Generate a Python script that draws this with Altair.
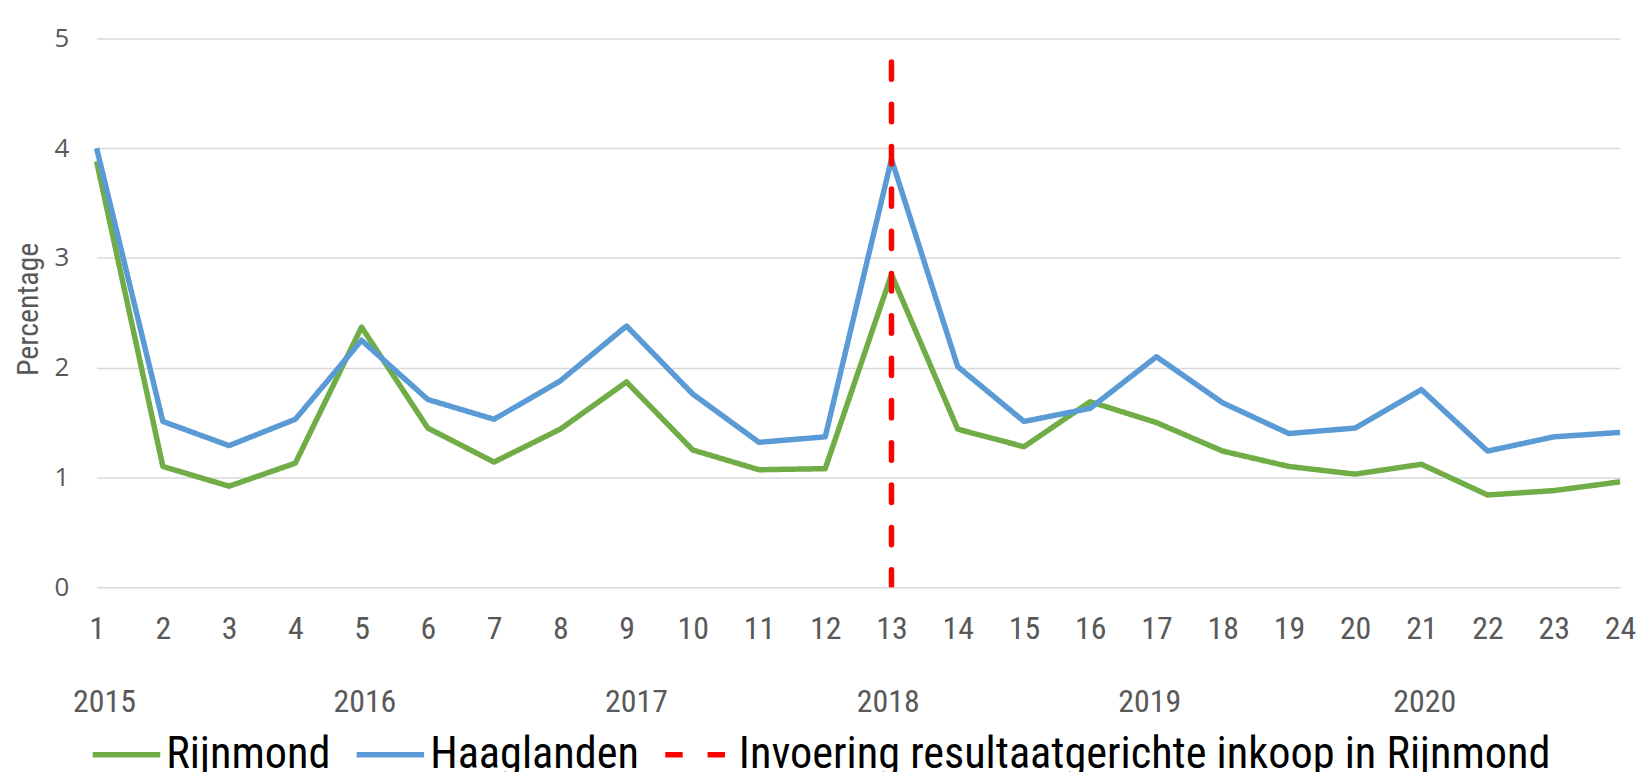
import altair as alt
import pandas as pd

periods = list(range(1, 25))
rijnmond = [3.88, 1.10, 0.92, 1.13, 2.37, 1.45, 1.14, 1.44, 1.87, 1.25, 1.07, 1.08,
            2.85, 1.44, 1.28, 1.69, 1.50, 1.24, 1.10, 1.03, 1.12, 0.84, 0.88, 0.96]
haaglanden = [4.00, 1.51, 1.29, 1.53, 2.25, 1.71, 1.53, 1.88, 2.38, 1.76, 1.32, 1.37,
              3.90, 2.01, 1.51, 1.63, 2.10, 1.68, 1.40, 1.45, 1.80, 1.24, 1.37, 1.41]
series_names = ["Rijnmond", "Haaglanden", "Invoering resultaatgerichte inkoop in Rijnmond"]
series_colors = ["#70ad47", "#5b9bd5", "#ff0000"]
marker_x = [13, 13]
marker_y = [0, 5]
years = ["2015", "2016", "2017", "2018", "2019", "2020"]
year_pos = [1.12, 5.05, 9.15, 12.95, 16.9, 21.05]

NARROW = "Liberation Sans Narrow, Roboto Condensed, Roboto, sans-serif"

lines_df = pd.DataFrame({
    "period": periods * 2,
    "value": rijnmond + haaglanden,
    "series": [series_names[0]] * 24 + [series_names[1]] * 24,
    "order": [0] * 24 + [1] * 24,
})
marker_df = pd.DataFrame({"period": marker_x, "value": marker_y,
                          "series": [series_names[2]] * 2, "order": [0, 1]})
years_df = pd.DataFrame({"period": year_pos, "year": years})

W, H = 1530, 551

x_scale = alt.Scale(domain=[1, 24], nice=False, zero=False)
y_scale = alt.Scale(domain=[0, 5], nice=False)
color_scale = alt.Scale(domain=series_names, range=series_colors)
dash_scale = alt.Scale(domain=series_names, range=[[1, 0], [1, 0], [17.5, 25]])

legend = alt.Legend(
    title=None, orient="none", legendX=82 - 89, legendY=682,
    direction="horizontal", symbolType="stroke", symbolSize=4600,
    symbolStrokeWidth=5.5, symbolOpacity=1, labelFontSize=44.5, labelFont=NARROW,
    labelColor="#000000", labelLimit=1000, columnPadding=15, labelOffset=3,
    symbolOffset=0,
)

x_axis = alt.Axis(values=periods, format="d", title=None, grid=False, domain=False,
                  ticks=False, labelFont=NARROW, labelFontSize=32, labelColor="#595959",
                  labelPadding=27, labelFlush=False)
y_axis = alt.Axis(values=[0, 1, 2, 3, 4, 5], format="d", title="Percentage",
                  domain=False, ticks=False,
                  gridColor="#d9d9d9", gridWidth=1.5, labelFont="Open Sans",
                  labelFontSize=26, labelColor="#595959", labelPadding=28,
                  titleFont=NARROW, titleFontSize=30, titleFontWeight="normal",
                  titleColor="#595959", titleX=-68, titleY=H / 2 - 4, titleBaseline="middle",
                  titleAngle=270)

lines = alt.Chart(lines_df).mark_line(strokeWidth=5.5, strokeJoin="round").encode(
    x=alt.X("period:Q", scale=x_scale, axis=x_axis),
    y=alt.Y("value:Q", scale=y_scale, axis=y_axis),
    color=alt.Color("series:N", scale=color_scale, legend=legend),
    strokeDash=alt.StrokeDash("series:N", scale=dash_scale, legend=legend),
    order="order:Q",
)

marker = alt.Chart(marker_df).mark_line(strokeWidth=5.5, strokeCap="round", clip=True).encode(
    x=alt.X("period:Q", scale=x_scale),
    y=alt.Y("value:Q", scale=y_scale),
    color=alt.Color("series:N", scale=color_scale, legend=legend),
    strokeDash=alt.StrokeDash("series:N", scale=dash_scale, legend=legend),
    order="order:Q",
)

year_text = alt.Chart(years_df).mark_text(
    font=NARROW, fontSize=32, color="#595959", baseline="middle"
).encode(
    x=alt.X("period:Q", scale=x_scale),
    y=alt.value(703 - 37),
    text="year:N",
)

chart = alt.layer(lines, marker, year_text).properties(
    width=W, height=H,
    padding={"left": 89, "top": 29, "right": 18, "bottom": 184},
    autosize=alt.AutoSizeParams(type="none"),
).configure_view(stroke=None)

chart.save("out.html", embed_options={"renderer": "svg", "actions": False})
